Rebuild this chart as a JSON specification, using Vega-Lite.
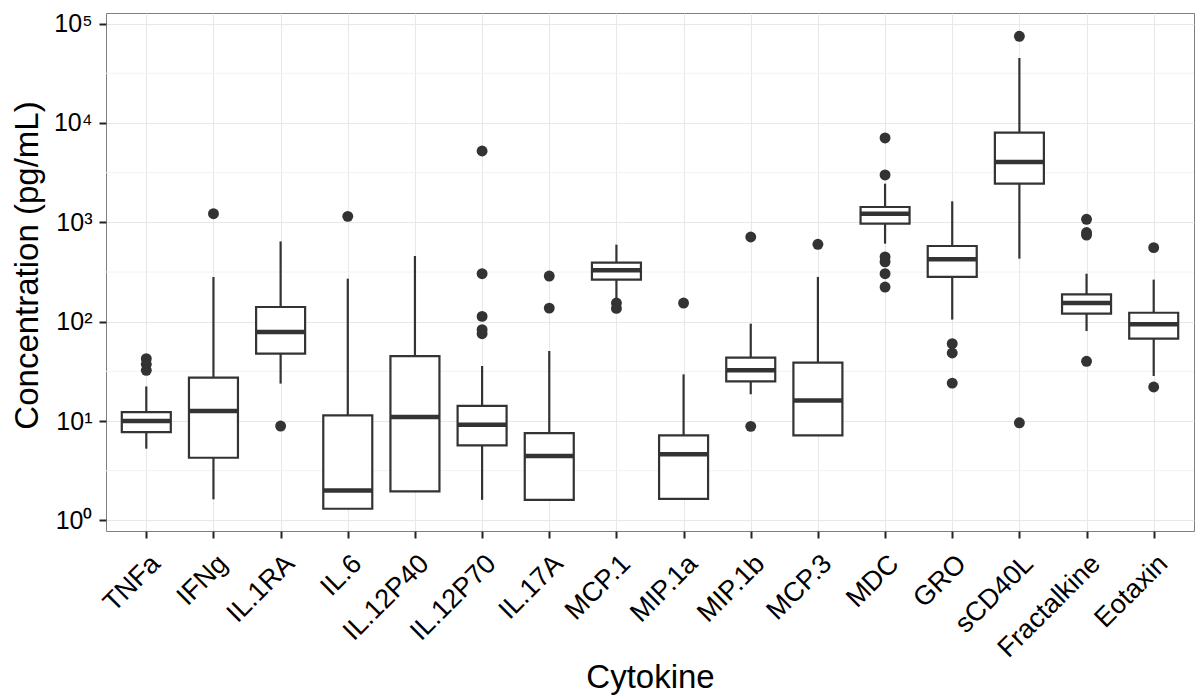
{
  "$schema": "https://vega.github.io/schema/vega-lite/v6.json",
  "width": 1088,
  "height": 518,
  "autosize": "none",
  "padding": {"left": 106, "top": 13, "right": 3, "bottom": 165},
  "background": "white",
  "config": {
    "font": "Liberation Sans",
    "view": {"stroke": "#7f7f7f", "strokeWidth": 1},
    "axis": {
      "domain": false,
      "grid": true,
      "gridColor": "#e8e8e8",
      "gridWidth": 1.1,
      "tickColor": "#222222",
      "tickWidth": 2,
      "tickSize": 7,
      "labelColor": "#000000",
      "labelFont": "Liberation Sans",
      "labelFontSize": 27,
      "titleFont": "Liberation Sans",
      "titleFontSize": 33,
      "titleFontWeight": "normal",
      "titleColor": "#000000"
    },
    "axisY": {"labelFontSize": 25, "labelPadding": 7}
  },
  "datasets": {
    "boxes": [
      {"c": "TNFa", "lo": 5.27, "q1": 7.75, "med": 10.0, "q3": 12.3, "hi": 22.3},
      {"c": "IFNg", "lo": 1.63, "q1": 4.27, "med": 12.6, "q3": 27.3, "hi": 281.6},
      {"c": "IL.1RA", "lo": 23.8, "q1": 47.6, "med": 78.7, "q3": 140.5, "hi": 643},
      {"c": "IL.6", "lo": 1.31, "q1": 1.31, "med": 2.0, "q3": 11.4, "hi": 271},
      {"c": "IL.12P40", "lo": 1.96, "q1": 1.96, "med": 11.0, "q3": 45.1, "hi": 458},
      {"c": "IL.12P70", "lo": 1.61, "q1": 5.69, "med": 9.19, "q3": 14.2, "hi": 35.8},
      {"c": "IL.17A", "lo": 1.61, "q1": 1.61, "med": 4.44, "q3": 7.57, "hi": 50.7},
      {"c": "MCP.1", "lo": 170, "q1": 265, "med": 329, "q3": 393, "hi": 596},
      {"c": "MIP.1a", "lo": 1.65, "q1": 1.65, "med": 4.62, "q3": 7.17, "hi": 29.5},
      {"c": "MIP.1b", "lo": 18.6, "q1": 25.1, "med": 32.4, "q3": 43.4, "hi": 95.5},
      {"c": "MCP.3", "lo": 7.17, "q1": 7.17, "med": 16.1, "q3": 38.7, "hi": 282},
      {"c": "MDC", "lo": 610, "q1": 970, "med": 1222, "q3": 1427, "hi": 2449},
      {"c": "GRO", "lo": 105, "q1": 282, "med": 424, "q3": 578, "hi": 1626},
      {"c": "sCD40L", "lo": 431, "q1": 2449, "med": 4047, "q3": 8000, "hi": 45100},
      {"c": "Fractalkine", "lo": 80.5, "q1": 120.5, "med": 154, "q3": 188, "hi": 304},
      {"c": "Eotaxin", "lo": 28.4, "q1": 67.5, "med": 94, "q3": 123, "hi": 265}
    ],
    "outliers": [
      {"c": "TNFa", "v": 42.4}, {"c": "TNFa", "v": 37.2}, {"c": "TNFa", "v": 32.4},
      {"c": "IFNg", "v": 1222},
      {"c": "IL.1RA", "v": 8.9},
      {"c": "IL.6", "v": 1148},
      {"c": "IL.12P70", "v": 5224}, {"c": "IL.12P70", "v": 304}, {"c": "IL.12P70", "v": 113}, {"c": "IL.12P70", "v": 83}, {"c": "IL.12P70", "v": 75.7},
      {"c": "IL.17A", "v": 288}, {"c": "IL.17A", "v": 137},
      {"c": "MCP.1", "v": 154}, {"c": "MCP.1", "v": 136},
      {"c": "MIP.1a", "v": 154},
      {"c": "MIP.1b", "v": 712}, {"c": "MIP.1b", "v": 8.84},
      {"c": "MCP.3", "v": 601},
      {"c": "MDC", "v": 7063}, {"c": "MDC", "v": 2997}, {"c": "MDC", "v": 448}, {"c": "MDC", "v": 400}, {"c": "MDC", "v": 304}, {"c": "MDC", "v": 223},
      {"c": "GRO", "v": 60}, {"c": "GRO", "v": 48.4}, {"c": "GRO", "v": 24.1},
      {"c": "sCD40L", "v": 74500}, {"c": "sCD40L", "v": 9.6},
      {"c": "Fractalkine", "v": 1072}, {"c": "Fractalkine", "v": 790}, {"c": "Fractalkine", "v": 745}, {"c": "Fractalkine", "v": 39.9},
      {"c": "Eotaxin", "v": 556}, {"c": "Eotaxin", "v": 22.0}
    ],
    "minor": [
      {"m": 3.1623}, {"m": 31.623}, {"m": 316.23}, {"m": 3162.3}, {"m": 31623}
    ]
  },
  "layer": [
    {
      "data": {"name": "minor"},
      "mark": {"type": "rule", "color": "#f2f2f2", "strokeWidth": 1},
      "encoding": {
        "y": {"field": "m", "type": "quantitative", "scale": {"type": "log", "domain": [0.782, 127900], "nice": false},
          "axis": {"title": "Concentration (pg/mL)", "values": [1, 10, 100, 1000, 10000, 100000],
            "labelExpr": "'10' + (datum.value < 5 ? '⁰' : datum.value < 50 ? '¹' : datum.value < 500 ? '²' : datum.value < 5000 ? '³' : datum.value < 50000 ? '⁴' : '⁵')",
            "titleX": -69, "titleY": 252, "titleAlign": "center", "titleBaseline": "alphabetic"}}
      }
    },
    {
      "data": {"name": "boxes"},
      "mark": {"type": "rule", "color": "#333333", "strokeWidth": 2.2},
      "encoding": {
        "x": {"field": "c", "type": "nominal", "scale": {"type": "point", "padding": 0.6, "domain": ["TNFa", "IFNg", "IL.1RA", "IL.6", "IL.12P40", "IL.12P70", "IL.17A", "MCP.1", "MIP.1a", "MIP.1b", "MCP.3", "MDC", "GRO", "sCD40L", "Fractalkine", "Eotaxin"]},
          "axis": {"title": "Cytokine", "grid": true, "labelAngle": -45, "labelAlign": "right", "labelBaseline": "top", "labelPadding": 12, "titleX": 544, "titleY": 156, "titleAlign": "center", "titleBaseline": "alphabetic"}},
        "y": {"field": "lo", "type": "quantitative", "scale": {"type": "log", "domain": [0.782, 127900], "nice": false},
          "axis": {"title": "Concentration (pg/mL)", "values": [1, 10, 100, 1000, 10000, 100000],
            "labelExpr": "'10' + (datum.value < 5 ? '⁰' : datum.value < 50 ? '¹' : datum.value < 500 ? '²' : datum.value < 5000 ? '³' : datum.value < 50000 ? '⁴' : '⁵')",
            "titleX": -69, "titleY": 252, "titleAlign": "center", "titleBaseline": "alphabetic"}},
        "y2": {"field": "hi"}
      }
    },
    {
      "data": {"name": "boxes"},
      "mark": {"type": "bar", "fill": "white", "stroke": "#333333", "strokeWidth": 2.2, "size": 49},
      "encoding": {
        "x": {"field": "c", "type": "nominal",
          "axis": {"title": "Cytokine", "grid": true, "labelAngle": -45, "labelAlign": "right", "labelBaseline": "top", "labelPadding": 12, "titleX": 544, "titleY": 156, "titleAlign": "center", "titleBaseline": "alphabetic"}},
        "y": {"field": "q1", "type": "quantitative", "scale": {"type": "log", "domain": [0.782, 127900], "nice": false},
          "axis": {"title": "Concentration (pg/mL)", "values": [1, 10, 100, 1000, 10000, 100000],
            "labelExpr": "'10' + (datum.value < 5 ? '⁰' : datum.value < 50 ? '¹' : datum.value < 500 ? '²' : datum.value < 5000 ? '³' : datum.value < 50000 ? '⁴' : '⁵')",
            "titleX": -69, "titleY": 252, "titleAlign": "center", "titleBaseline": "alphabetic"}},
        "y2": {"field": "q3"}
      }
    },
    {
      "data": {"name": "boxes"},
      "mark": {"type": "tick", "color": "#333333", "thickness": 4.5, "size": 49, "opacity": 1},
      "encoding": {
        "x": {"field": "c", "type": "nominal",
          "axis": {"title": "Cytokine", "grid": true, "labelAngle": -45, "labelAlign": "right", "labelBaseline": "top", "labelPadding": 12, "titleX": 544, "titleY": 156, "titleAlign": "center", "titleBaseline": "alphabetic"}},
        "y": {"field": "med", "type": "quantitative", "scale": {"type": "log", "domain": [0.782, 127900], "nice": false},
          "axis": {"title": "Concentration (pg/mL)", "values": [1, 10, 100, 1000, 10000, 100000],
            "labelExpr": "'10' + (datum.value < 5 ? '⁰' : datum.value < 50 ? '¹' : datum.value < 500 ? '²' : datum.value < 5000 ? '³' : datum.value < 50000 ? '⁴' : '⁵')",
            "titleX": -69, "titleY": 252, "titleAlign": "center", "titleBaseline": "alphabetic"}}
      }
    },
    {
      "data": {"name": "outliers"},
      "mark": {"type": "circle", "color": "#333333", "opacity": 1, "size": 119},
      "encoding": {
        "x": {"field": "c", "type": "nominal",
          "axis": {"title": "Cytokine", "grid": true, "labelAngle": -45, "labelAlign": "right", "labelBaseline": "top", "labelPadding": 12, "titleX": 544, "titleY": 156, "titleAlign": "center", "titleBaseline": "alphabetic"}},
        "y": {"field": "v", "type": "quantitative", "scale": {"type": "log", "domain": [0.782, 127900], "nice": false},
          "axis": {"title": "Concentration (pg/mL)", "values": [1, 10, 100, 1000, 10000, 100000],
            "labelExpr": "'10' + (datum.value < 5 ? '⁰' : datum.value < 50 ? '¹' : datum.value < 500 ? '²' : datum.value < 5000 ? '³' : datum.value < 50000 ? '⁴' : '⁵')",
            "titleX": -69, "titleY": 252, "titleAlign": "center", "titleBaseline": "alphabetic"}}
      }
    }
  ]
}
